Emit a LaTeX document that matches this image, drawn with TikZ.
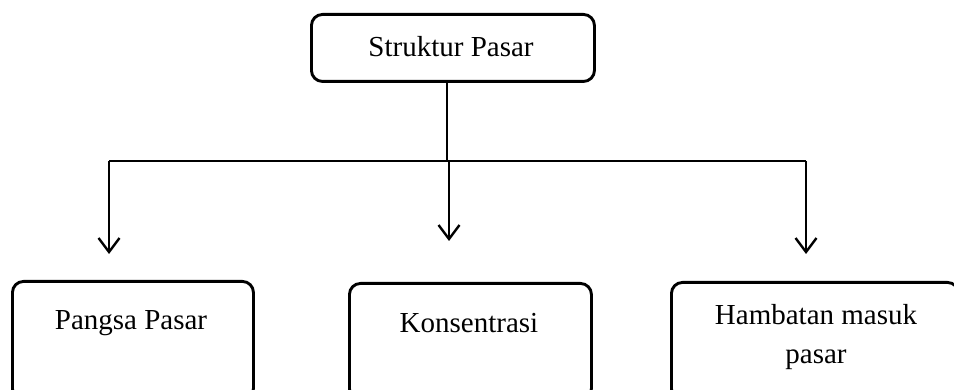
\documentclass[tikz,border=0pt]{standalone}
\usepackage{fontspec}
\setmainfont{Liberation Serif}
\usetikzlibrary{arrows.meta}
\begin{document}
\begin{tikzpicture}[x=1pt,y=-1pt,
  boxstyle/.style={draw,line width=2.9pt,rounded corners=11pt,inner sep=0pt,anchor=north west},
  labelstyle/.style={font=\fontsize{29}{39}\selectfont,align=center,inner sep=0pt},
  link/.style={line width=2.9pt},
  arrowlink/.style={line width=2.7pt,-{Straight Barb[length=14pt,width=21pt,line width=2.4pt]}}]
  \useasboundingbox (0,0) rectangle (954,390);
  \clip (0,0) rectangle (954,390);

  % root box
  \node[boxstyle,minimum width=283pt,minimum height=67pt] (root) at (310,13) {};
  \node[labelstyle] (rootlabel) at (451,47) {Struktur Pasar};

  % child boxes, running past the lower edge
  \node[boxstyle,minimum width=241pt,minimum height=118pt] (pangsa) at (11,280) {};
  \node[boxstyle,minimum width=242pt,minimum height=116pt] (konsen) at (348,282) {};
  \node[boxstyle,minimum width=287pt,minimum height=117pt] (hambat) at (670,281) {};

  \node[labelstyle] (pangsalabel) at (131,323) {Pangsa Pasar};
  \node[labelstyle] (konsenlabel) at (469,323) {Konsentrasi};
  \node[labelstyle] (hambatlabel) at (816,337) {Hambatan masuk\\pasar};

  % branching connectors
  \coordinate (stem) at (447,161);
  \coordinate (jl) at (109,161);
  \coordinate (jm) at (449,161);
  \coordinate (jr) at (806,161);
  \coordinate (tl) at (109,254);
  \coordinate (tm) at (449,241);
  \coordinate (tr) at (806,254);

  \draw[link] (root.south -| stem) -- (stem);
  \draw[link] (jl) -- (jr);
  \draw[arrowlink] (jl) -- (tl);
  \draw[arrowlink] (jm) -- (tm);
  \draw[arrowlink] (jr) -- (tr);
\end{tikzpicture}
\end{document}
